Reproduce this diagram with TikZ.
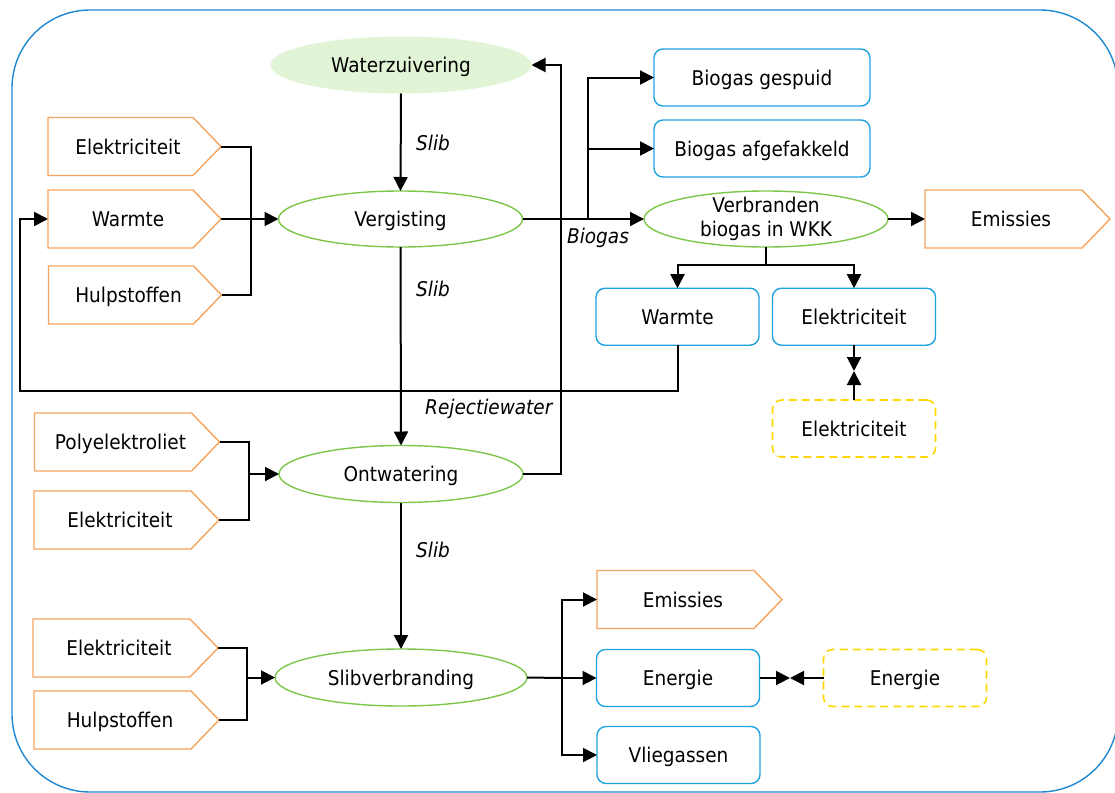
\documentclass[tikz,border=0pt]{standalone}
\usepackage{fontspec}
\setmainfont{DejaVu Sans}[FakeStretch=0.91]
\usetikzlibrary{shapes.geometric,arrows.meta,calc}
\definecolor{orangeB}{HTML}{F7A35C}
\definecolor{blueB}{HTML}{1FA3DE}
\definecolor{greenB}{HTML}{7CC74A}
\definecolor{greenF}{HTML}{E1F4D5}
\definecolor{yellowD}{HTML}{FFD700}
\definecolor{outerB}{HTML}{1E88D2}
\tikzset{
  txt/.style={font=\fontsize{20.3}{23.4}\selectfont, text=black},
  box/.style={txt, text depth=0pt},
  lbl/.style={font=\fontsize{20.3}{23.4}\selectfont\itshape, text=black, inner sep=0pt},
  pent/.style={box, minimum width=173pt, minimum height=58pt, inner sep=0pt, outer sep=0pt, execute at end node={\hspace*{13pt}}},
  pentline/.style={draw=orangeB, line width=1.4pt},
  ell/.style={box, ellipse, draw=greenB, line width=1.4pt, inner sep=0pt, outer sep=0pt},
  rbox/.style={box, draw=blueB, line width=1.4pt, rounded corners=9pt, minimum width=163pt, minimum height=57pt, inner sep=0pt, outer sep=0pt},
  ybox/.style={box, draw=yellowD, line width=1.6pt, dash pattern=on 8pt off 5pt, rounded corners=9pt, minimum width=163pt, minimum height=57pt, inner sep=0pt, outer sep=0pt},
  conn/.style={line width=2pt, black},
  arr/.style={conn, -{Triangle[length=14pt,width=14pt]}},
}
\begin{document}
\begin{tikzpicture}[x=1pt,y=-1pt]
\useasboundingbox (0,0) rectangle (1115,792);
\draw[outerB, line width=1.4pt, rounded corners=78pt] (12,10) rectangle (1118,792);

% ellipses
\node[ell, draw=none, fill=greenF, minimum width=261pt, minimum height=57pt] (wz) at (401,65) {Waterzuivering};
\node[ell, minimum width=244pt, minimum height=56pt] (verg) at (400.5,219) {Vergisting};
\node[ell, minimum width=244pt, minimum height=57pt] (ont) at (401,474) {Ontwatering};
\node[ell, minimum width=252pt, minimum height=57pt] (slib) at (401,677.5) {Slibverbranding};
\node[ell, minimum width=244pt, minimum height=56pt] (wkk) at (766,219) {};
\node[txt, align=center, inner sep=0pt] (wkktext) at (766,219) {Verbranden\\biogas in WKK};

% orange input/output shapes
\node[pent] (e1) at (134.5,146.5) {Elektriciteit};
\node[pent] (w1) at (134.5,219) {Warmte};
\node[pent] (h1) at (135,295) {Hulpstoffen};
\node[pent, minimum width=185pt] (p2) at (127,442) {Polyelektroliet};
\node[pent, minimum width=185pt] (e2) at (126.5,520) {Elektriciteit};
\node[pent, minimum width=185pt] (e3) at (125.5,648) {Elektriciteit};
\node[pent, minimum width=185pt] (h3) at (126.5,720) {Hulpstoffen};
\node[pent, minimum width=185pt] (em1) at (1017.5,219) {Emissies};
\node[pent, minimum width=185pt] (em2) at (689.5,599.5) {Emissies};
\foreach \n in {e1,w1,h1,p2,e2,e3,h3,em1,em2}
  \draw[pentline] (\n.north west) -- ([xshift=-28pt]\n.north east) -- (\n.east) -- ([xshift=-28pt]\n.south east) -- (\n.south west) -- cycle;

% blue boxes
\node[rbox, minimum width=216pt] (bg) at (762,77.5) {Biogas gespuid};
\node[rbox, minimum width=216pt] (ba) at (762,148.5) {Biogas afgefakkeld};
\node[rbox] (wb) at (677.5,316.7) {Warmte};
\node[rbox] (eb) at (854,316.7) {Elektriciteit};
\node[ybox] (ey) at (854,428.5) {Elektriciteit};
\node[rbox] (en) at (678,678) {Energie};
\node[rbox] (vl) at (678.5,755) {Vliegassen};
\node[ybox] (eny) at (905,678) {Energie};

% coordinates
\coordinate (j1) at (251,219);
\coordinate (j2) at (249,474);
\coordinate (j3) at (246.5,677.5);
\coordinate (rj) at (561,65);
\coordinate (lp) at (20,391);
\coordinate (bj) at (588,219);
\coordinate (wj) at (766,264.5);
\coordinate (m1) at (854,371);
\coordinate (sj) at (562,678);
\coordinate (m2) at (790,678);

% main flow
\draw[arr] (wz.south) -- (verg.north);
\draw[arr] (verg.south) -- (ont.north);
\draw[arr] (ont.south) -- (slib.north);
\node[lbl, anchor=west] (sl1) at (416,143) {Slib};
\node[lbl, anchor=west] (sl2) at (416,289) {Slib};
\node[lbl, anchor=west] (sl3) at (416,550) {Slib};

% inputs
\draw[conn] (e1.east) -| (j1);
\draw[conn] (h1.east) -| (j1);
\draw[arr] (w1.east) -- (verg.west);
\draw[conn] (p2.east) -| (j2);
\draw[conn] (e2.east) -| (j2);
\draw[arr] (j2) -- (ont.west);
\draw[conn] (e3.east) -| (j3);
\draw[conn] (h3.east) -| (j3);
\draw[arr] (j3) -- (slib.west);

% rejectiewater
\draw[arr] (ont.east) -| (rj) -- (wz.east);
\node[lbl, anchor=west] (rjl) at (425,409) {Rejectiewater};

% warmte loop
\draw[arr] (wb.south) |- (lp) |- (w1.west);

% biogas
\draw[arr] (verg.east) -- (wkk.west);
\draw[arr] (bj) |- (bg.west);
\draw[arr] (bj) |- (ba.west);
\node[lbl] (bgl) at (598,238) {Biogas};
\draw[arr] (wkk.east) -- (em1.west);
\draw[conn] (wkk.south) -- (wj);
\draw[arr] (wj) -| (wb.north);
\draw[arr] (wj) -| (eb.north);
\draw[arr] (eb.south) -- (m1);
\draw[arr] (ey.north) -- (m1);

% slibverbranding outputs
\draw[conn] (slib.east) -- (sj);
\draw[arr] (sj) |- (em2.west);
\draw[arr] (sj) -- (en.west);
\draw[arr] (sj) |- (vl.west);
\draw[arr] (en.east) -- (m2);
\draw[arr] (eny.west) -- (m2);
\end{tikzpicture}
\end{document}
